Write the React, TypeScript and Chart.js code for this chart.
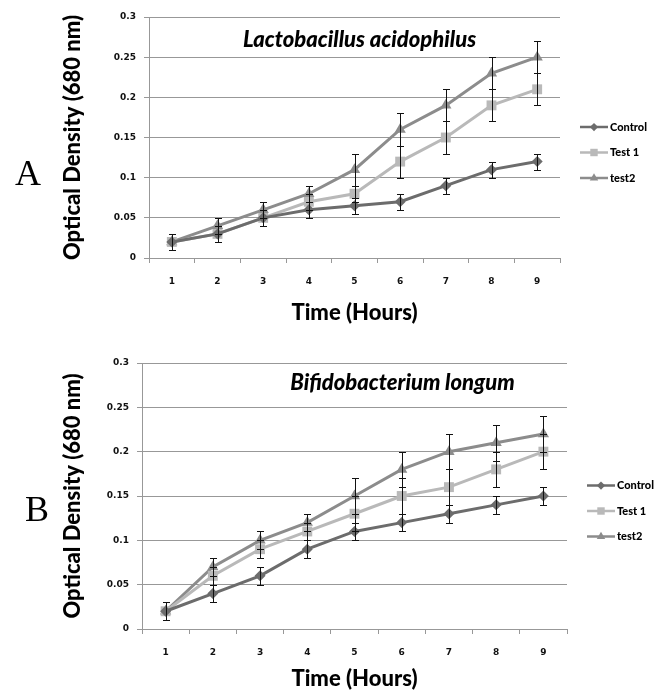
import React, { useEffect, useRef } from 'react';
import { Chart, registerables } from 'chart.js';
Chart.register(...registerables);

// ---------- data ----------
const hours = ['1', '2', '3', '4', '5', '6', '7', '8', '9'];
const seriesNames = ['Control', 'Test 1', 'test2'];
const yTickLabels = ['0', '0.05', '0.1', '0.15', '0.2', '0.25', '0.3'];

const lactoControl = [0.02, 0.03, 0.05, 0.06, 0.065, 0.07, 0.09, 0.11, 0.12];
const lactoControlErr = [0.01, 0.01, 0.01, 0.01, 0.01, 0.01, 0.01, 0.01, 0.01];
const lactoTest1 = [0.02, 0.03, 0.05, 0.07, 0.08, 0.12, 0.15, 0.19, 0.21];
const lactoTest1Err = [0.01, 0.01, 0.01, 0.01, 0.01, 0.02, 0.02, 0.02, 0.02];
const lactoTest2 = [0.02, 0.04, 0.06, 0.08, 0.11, 0.16, 0.19, 0.23, 0.25];
const lactoTest2Err = [0.01, 0.01, 0.01, 0.01, 0.02, 0.02, 0.02, 0.02, 0.02];

const bifidoControl = [0.02, 0.04, 0.06, 0.09, 0.11, 0.12, 0.13, 0.14, 0.15];
const bifidoControlErr = [0.01, 0.01, 0.01, 0.01, 0.01, 0.01, 0.01, 0.01, 0.01];
const bifidoTest1 = [0.02, 0.06, 0.09, 0.11, 0.13, 0.15, 0.16, 0.18, 0.2];
const bifidoTest1Err = [0.01, 0.01, 0.01, 0.01, 0.02, 0.02, 0.02, 0.02, 0.02];
const bifidoTest2 = [0.02, 0.07, 0.1, 0.12, 0.15, 0.18, 0.2, 0.21, 0.22];
const bifidoTest2Err = [0.01, 0.01, 0.01, 0.01, 0.02, 0.02, 0.02, 0.02, 0.02];

// ---------- styles ----------
const seriesColors = ['#6c6c6c', '#b9b9b9', '#8c8c8c'];
const pointStyles = ['rectRot', 'rect', 'triangle'];
const pointRadii = [5.5, 7, 6.5];
const gridColor = '#989898';

function shapePath(ctx: CanvasRenderingContext2D, style: string, x: number, y: number, r: number) {
  ctx.beginPath();
  if (style === 'rectRot') {
    ctx.moveTo(x, y - r);
    ctx.lineTo(x + r, y);
    ctx.lineTo(x, y + r);
    ctx.lineTo(x - r, y);
  } else if (style === 'rect') {
    const s = r * Math.SQRT1_2;
    ctx.rect(x - s, y - s, 2 * s, 2 * s);
  } else {
    const h = r * Math.sin(Math.PI / 3);
    ctx.moveTo(x, y - r);
    ctx.lineTo(x + h, y + r / 2);
    ctx.lineTo(x - h, y + r / 2);
  }
  ctx.closePath();
}

const errorBarPlugin = {
  id: 'errorBars',
  afterDatasetsDraw(chart: any) {
    const ctx = chart.ctx;
    const yScale = chart.scales.y;
    ctx.save();
    ctx.strokeStyle = '#111';
    ctx.lineWidth = 1;
    chart.data.datasets.forEach((ds: any, di: number) => {
      const meta = chart.getDatasetMeta(di);
      (ds.errors || []).forEach((e: number, i: number) => {
        const el = meta.data[i];
        if (!el) return;
        const v = ds.data[i];
        const x = Math.round(el.x) + 0.5;
        const yHi = Math.round(yScale.getPixelForValue(v + e)) + 0.5;
        const yLo = Math.round(yScale.getPixelForValue(v - e)) + 0.5;
        ctx.beginPath();
        ctx.moveTo(x, yHi);
        ctx.lineTo(x, yLo);
        ctx.moveTo(x - 3.5, yHi);
        ctx.lineTo(x + 3.5, yHi);
        ctx.moveTo(x - 3.5, yLo);
        ctx.lineTo(x + 3.5, yLo);
        ctx.stroke();
      });
    });
    ctx.restore();
  },
};

const decorPlugin = {
  id: 'decor',
  afterDraw(chart: any, _args: any, opts: any) {
    const ctx = chart.ctx;
    const area = chart.chartArea;
    ctx.save();
    // panel letter
    ctx.fillStyle = '#000';
    ctx.font = '36px "Liberation Serif"';
    ctx.textAlign = 'center';
    ctx.textBaseline = 'middle';
    ctx.fillText(opts.letter, opts.letterX, opts.letterY);
    // chart title inside plot
    ctx.font = 'italic 900 22px Lato';
    ctx.fillText(opts.title, (area.left + area.right) / 2 + opts.titleDx, area.top + opts.titleDy);
    // legend
    const x0 = area.right + 20;
    const midY = (area.top + area.bottom) / 2 + 15;
    chart.data.datasets.forEach((ds: any, i: number) => {
      const y = midY + (i - 1) * 25.5;
      ctx.strokeStyle = ds.borderColor;
      ctx.lineWidth = 2.5;
      ctx.beginPath();
      ctx.moveTo(x0, y);
      ctx.lineTo(x0 + 28, y);
      ctx.stroke();
      ctx.fillStyle = ds.pointBackgroundColor;
      shapePath(ctx, ds.pointStyle, x0 + 14, y, ds.pointRadius * 0.75);
      ctx.fill();
      ctx.fillStyle = '#000';
      ctx.font = '900 11px Lato';
      ctx.textAlign = 'left';
      ctx.textBaseline = 'middle';
      ctx.fillText(ds.label, x0 + 30, y);
    });
    ctx.restore();
  },
};

type PanelParams = {
  series: number[][];
  errors: number[][];
  padTop: number;
  padRight: number;
  yWidth: number;
  xHeight: number;
  xTitlePadBottom: number;
  title: string;
  titleDx: number;
  titleDy: number;
  letter: string;
  letterX: number;
  letterY: number;
};

function makeConfig(p: PanelParams): any {
  const tickFont = { family: '"DejaVu Sans"', weight: 'bold', size: 9 };
  const titleFont = { family: 'Lato', weight: '900', size: 22 };
  return {
    type: 'line',
    data: {
      labels: hours,
      datasets: p.series.map((vals, i) => ({
        label: seriesNames[i],
        data: vals,
        errors: p.errors[i],
        borderColor: seriesColors[i],
        backgroundColor: seriesColors[i],
        pointBackgroundColor: seriesColors[i],
        pointBorderColor: seriesColors[i],
        pointBorderWidth: 0,
        pointStyle: pointStyles[i],
        pointRadius: pointRadii[i],
        borderWidth: 3,
        tension: 0,
        fill: false,
      })),
    },
    options: {
      responsive: false,
      animation: false,
      devicePixelRatio: 1,
      layout: { padding: { left: 0, top: p.padTop, right: p.padRight, bottom: 0 } },
      scales: {
        x: {
          type: 'category',
          offset: true,
          grid: { offset: true, drawOnChartArea: false, drawTicks: true, tickLength: 5, color: gridColor },
          border: { color: gridColor },
          ticks: { font: tickFont, color: '#111', padding: 13, maxRotation: 0 },
          title: {
            display: true,
            text: 'Time (Hours)',
            color: '#000',
            font: titleFont,
            padding: { top: 0, bottom: p.xTitlePadBottom },
          },
          afterFit: (s: any) => { s.height = p.xHeight; },
        },
        y: {
          min: 0,
          max: 0.3,
          ticks: {
            stepSize: 0.05,
            font: tickFont,
            color: '#111',
            padding: 8,
            callback: (_v: any, idx: number) => yTickLabels[idx],
          },
          grid: { color: gridColor, tickLength: 5 },
          border: { color: gridColor },
          title: {
            display: true,
            text: 'Optical Density (680 nm)',
            color: '#000',
            font: titleFont,
            padding: { top: 60, bottom: 0 },
          },
          afterFit: (s: any) => { s.width = p.yWidth; },
        },
      },
      plugins: {
        legend: { display: false },
        tooltip: { enabled: false },
        decor: {
          title: p.title,
          titleDx: p.titleDx,
          titleDy: p.titleDy,
          letter: p.letter,
          letterX: p.letterX,
          letterY: p.letterY,
        },
      },
    },
    plugins: [errorBarPlugin, decorPlugin],
  };
}

const panelA: PanelParams = {
  series: [lactoControl, lactoTest1, lactoTest2],
  errors: [lactoControlErr, lactoTest1Err, lactoTest2Err],
  padTop: 17,
  padRight: 108,
  yWidth: 149,
  xHeight: 82,
  xTitlePadBottom: 14,
  title: 'Lactobacillus acidophilus',
  titleDx: 5,
  titleDy: 23,
  letter: 'A',
  letterX: 28,
  letterY: 176,
};

const panelB: PanelParams = {
  series: [bifidoControl, bifidoTest1, bifidoTest2],
  errors: [bifidoControlErr, bifidoTest1Err, bifidoTest2Err],
  padTop: 23,
  padRight: 101,
  yWidth: 142,
  xHeight: 67,
  xTitlePadBottom: 4,
  title: 'Bifidobacterium longum',
  titleDx: 48,
  titleDy: 20,
  letter: 'B',
  letterX: 37,
  letterY: 172,
};

function Panel({ params, top, height }: { params: PanelParams; top: number; height: number }) {
  const ref = useRef<HTMLCanvasElement | null>(null);
  useEffect(() => {
    if (!ref.current) return;
    const chart = new Chart(ref.current, makeConfig(params));
    return () => chart.destroy();
  }, [params]);
  return (
    <canvas
      ref={ref}
      width={668}
      height={height}
      style={{ position: 'absolute', left: 0, top, width: 668, height, display: 'block' }}
    />
  );
}

export default function App() {
  return (
    <div style={{ position: 'fixed', left: 0, top: 0, width: 668, height: 696, background: '#fff' }}>
      <Panel params={panelA} top={0} height={340} />
      <Panel params={panelB} top={340} height={356} />
    </div>
  );
}
